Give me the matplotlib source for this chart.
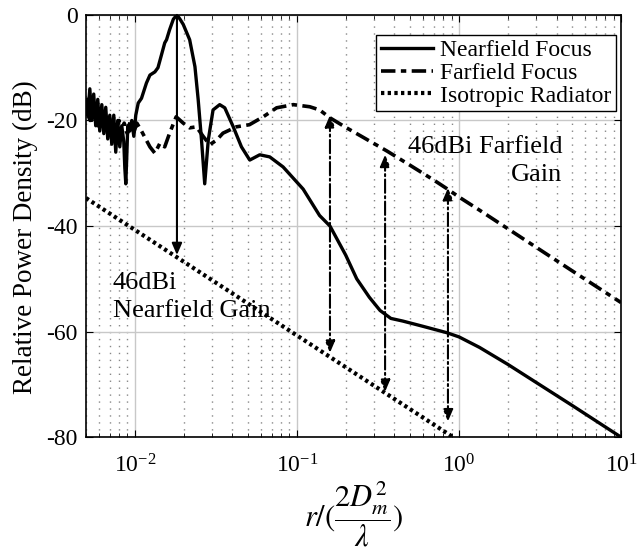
import matplotlib
matplotlib.use('Agg')
import matplotlib.pyplot as plt
from matplotlib.ticker import LogLocator, NullFormatter

plt.rcParams['font.family'] = ['Liberation Serif', 'DejaVu Serif']
plt.rcParams['mathtext.fontset'] = 'stix'
plt.rcParams['axes.unicode_minus'] = False

# nearfield focus curve
near_x = [0.00500, 0.00513, 0.00528, 0.00543, 0.00558, 0.00574, 0.00591, 0.00608,
          0.00626, 0.00644, 0.00662, 0.00681, 0.00701, 0.00721, 0.00742, 0.00763,
          0.00785, 0.00808, 0.00831, 0.00855, 0.00868, 0.00880, 0.00892, 0.00905,
          0.00931, 0.00958, 0.00986, 0.01014, 0.0105, 0.0110, 0.0118, 0.0124,
          0.0133, 0.0139, 0.0146, 0.0153, 0.0157, 0.0164, 0.0173, 0.0182, 0.0190,
          0.0199, 0.0218, 0.0235, 0.0246, 0.0258, 0.0270, 0.0284, 0.0304, 0.0334,
          0.0359, 0.0405, 0.0455, 0.0512, 0.0590, 0.0680, 0.0822, 0.1093, 0.138,
          0.160, 0.200, 0.234, 0.280, 0.326, 0.380, 0.450, 0.600, 0.840, 1.00,
          1.34, 2.00, 5.00, 10.0]
near_y = [-16, -19, -14, -20, -15, -21, -16, -22,
          -17, -22.5, -17.5, -23.5, -19, -24.5, -19, -26,
          -20, -25, -21, -24, -29, -32, -27, -21,
          -22, -20, -23, -19, -16.7, -15.8, -12.9, -11.4,
          -10.8, -10, -7.6, -5.3, -4.7, -2.8, -0.8, 0, -0.8,
          -1.8, -4.7, -9.8, -16, -23.7, -32, -23.7, -18, -17,
          -17.6, -21.2, -25, -27.5, -26.5, -26.9, -28.8, -33, -38,
          -40, -45.5, -50, -53.5, -56, -57.5, -58, -59, -60.2, -61,
          -63, -66.2, -74, -80]

# farfield focus curve
far_x = [0.0050, 0.0053, 0.0056, 0.0059, 0.0062, 0.0065, 0.0068, 0.0071, 0.0074,
         0.0077, 0.0080, 0.0083, 0.0086, 0.0090, 0.0094, 0.0098, 0.0103, 0.0110,
         0.0124, 0.0133, 0.0143, 0.0153, 0.0164, 0.0180, 0.0199, 0.0218, 0.0240,
         0.0264, 0.0290, 0.0320, 0.0350, 0.0424, 0.0510, 0.0620, 0.0750, 0.0950,
         0.120, 0.138, 0.160, 0.200, 0.250, 0.360, 0.500, 0.700, 0.850, 1.00,
         1.34, 2.00, 5.00, 10.0]
far_y = [-18, -20, -17.5, -21, -18.5, -21.5, -19, -22, -19.5,
         -22.5, -20, -23, -20.5, -22.5, -20, -22.5, -20.5, -22,
         -25, -26.2, -24.3, -25, -22.4, -19.3, -20.5, -21.4, -21.2,
         -23, -24.6, -23.7, -22.4, -21.2, -20.8, -19.3, -17.6, -17,
         -17.4, -18, -19.5, -21.3, -23, -25.8, -28.5, -31.3, -33, -34.5,
         -37, -40.5, -48.5, -54.5]

# isotropic radiator (straight line on the log axis)
iso_x = [0.005, 0.92]
iso_y = [-34.7, -80]

# gain arrows
near_arrow_x = 0.0182
near_arrow_y = [0, -45.5]
far_arrow_x = [0.16, 0.35, 0.855]
far_arrow_top = [-19, -26.5, -32.8]
far_arrow_bot = [-64, -71.4, -77]

fig = plt.figure(figsize=(6.37, 5.52), dpi=100)
ax = fig.add_axes([0.135, 0.208, 0.84, 0.765])

ax.plot(near_x, near_y, color='black', lw=2.4, solid_joinstyle='round',
        label='Nearfield Focus')
ax.plot(far_x, far_y, color='black', lw=2.6, linestyle=(0, (4, 1.5, 1.5, 1.5)),
        label='Farfield Focus')
ax.plot(iso_x, iso_y, color='black', lw=3, linestyle=(0, (0.8, 0.8)),
        label='Isotropic Radiator')

ax.annotate('', xy=(near_arrow_x, near_arrow_y[1]), xytext=(near_arrow_x, near_arrow_y[0]),
            arrowprops=dict(arrowstyle='-|>,head_length=0.7,head_width=0.3',
                            color='black', lw=1.5, shrinkA=0, shrinkB=0))
for xa, yt, yb in zip(far_arrow_x, far_arrow_top, far_arrow_bot):
    ax.annotate('', xy=(xa, yb), xytext=(xa, yt),
                arrowprops=dict(arrowstyle='<|-|>,head_length=0.7,head_width=0.3',
                                color='black', lw=1.5, linestyle='-.',
                                shrinkA=0, shrinkB=0))

ax.text(0.89, 0.714, '46dBi Farfield\nGain', transform=ax.transAxes,
        ha='right', va='top', multialignment='right', fontsize=19, linespacing=1.35)
ax.text(0.05, 0.392, '46dBi\nNearfield Gain', transform=ax.transAxes,
        ha='left', va='top', fontsize=19, linespacing=1.35)

ax.set_xscale('log')
ax.set_xlim(0.005, 10)
ax.set_ylim(-80, 0)
ax.set_yticks([-80, -60, -40, -20, 0])
ax.xaxis.set_minor_locator(LogLocator(base=10, subs=range(2, 10), numticks=20))
ax.xaxis.set_minor_formatter(NullFormatter())

ax.grid(True, which='major', color='#c8c8c8', lw=1)
ax.grid(True, which='minor', axis='x', color='#888888', lw=1, linestyle=(0, (1, 4)))
ax.set_axisbelow(True)

ax.tick_params(which='both', direction='in', top=True, right=True, labelsize=17)
ax.tick_params(which='major', length=5)
ax.tick_params(axis='x', which='major', pad=12)
ax.tick_params(axis='y', which='major', pad=6)
ax.tick_params(which='minor', length=3)
for s in ax.spines.values():
    s.set_linewidth(1.2)

ax.set_ylabel('Relative Power Density (dB)', fontsize=19.5)
ax.yaxis.set_label_coords(-0.09, 0.474)
ax.set_xlabel(r'$r/(\dfrac{2D_m^2}{\lambda})$', fontsize=22, labelpad=2)

leg = ax.legend(loc='upper right', bbox_to_anchor=(0.9907, 0.9526), fontsize=17,
                frameon=True, fancybox=False, borderpad=0.2, labelspacing=0.05,
                handlelength=2.2, handletextpad=0.3, borderaxespad=0)
leg.get_frame().set_edgecolor('black')
leg.get_frame().set_linewidth(1.0)
leg.get_frame().set_alpha(1)

fig.savefig('out.png', dpi=100)
